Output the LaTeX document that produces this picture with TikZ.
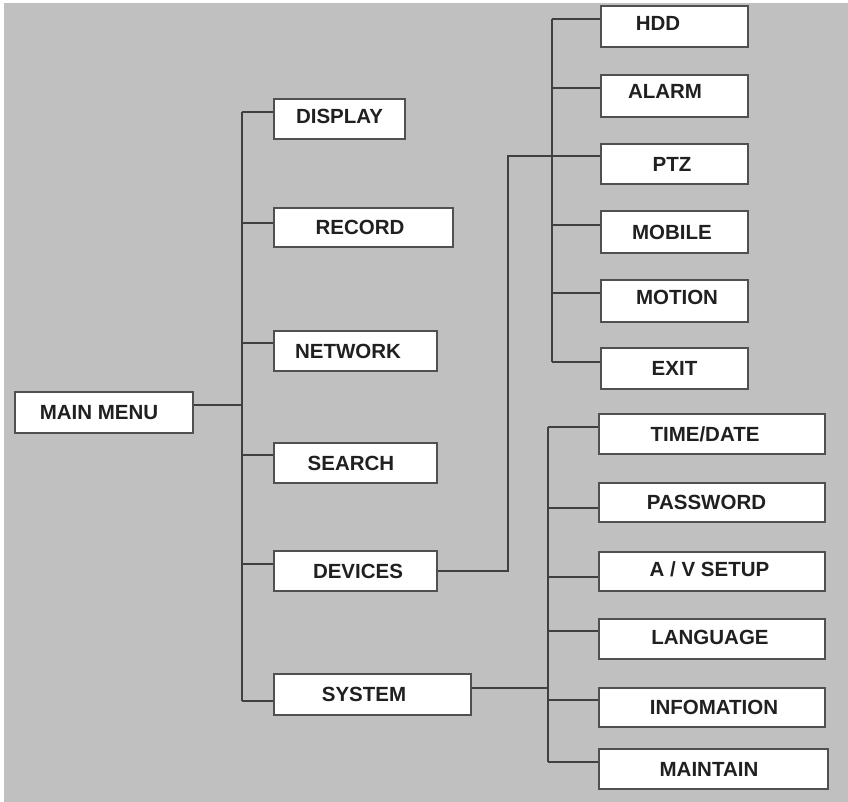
\documentclass[tikz,border=0pt]{standalone}
\usepackage{fontspec}
\setmainfont{Liberation Sans}
\newcommand\txl[2]{#2\hspace*{#1}}
\newcommand\txr[2]{\hspace*{#1}#2}
\begin{document}
\begin{tikzpicture}[x=1pt,y=-1pt,
  menubox/.style={draw=boxline,fill=white,line width=1.8pt,inner sep=0pt,
    text=txt,font=\fontsize{20.5}{24}\selectfont\bfseries},
  conn/.style={draw=wire,line width=2pt}]
\definecolor{bg}{HTML}{C0C0C0}
\definecolor{boxline}{HTML}{505050}
\definecolor{wire}{HTML}{404040}
\definecolor{txt}{HTML}{202020}
\useasboundingbox (0,0) rectangle (848,802);
\fill[white] (0,0) rectangle (848,802);
\fill[bg] (4,3) rectangle (848,802);
% left column
\node[menubox,minimum width=178pt,minimum height=41pt] (mm) at (104,412.5) {\txl{10pt}{MAIN MENU}};
\node[menubox,minimum width=131pt,minimum height=40pt] (disp) at (339.5,119) {\raisebox{5pt}{DISPLAY}};
\node[menubox,minimum width=179pt,minimum height=39pt] (rec) at (363.5,227.5) {\txl{7pt}{RECORD}};
\node[menubox,minimum width=163pt,minimum height=40pt] (net) at (355.5,351) {\txl{15pt}{NETWORK}};
\node[menubox,minimum width=163pt,minimum height=40pt] (sea) at (355.5,463) {\txl{9pt}{SEARCH}};
\node[menubox,minimum width=163pt,minimum height=40pt] (dev) at (355.5,571) {\txr{5pt}{DEVICES}};
\node[menubox,minimum width=197pt,minimum height=41pt] (sys) at (372.5,694.5) {\txl{17pt}{SYSTEM}};
% devices column
\node[menubox,minimum width=147pt,minimum height=41pt] (hdd) at (674.5,26.5) {\raisebox{6pt}{\txl{33pt}{HDD}}};
\node[menubox,minimum width=147pt,minimum height=42pt] (alarm) at (674.5,96) {\raisebox{9pt}{\txl{19pt}{ALARM}}};
\node[menubox,minimum width=147pt,minimum height=40pt] (ptz) at (674.5,164) {\txl{5pt}{PTZ}};
\node[menubox,minimum width=147pt,minimum height=42pt] (mob) at (674.5,232) {\txl{5pt}{MOBILE}};
\node[menubox,minimum width=147pt,minimum height=42pt] (mot) at (674.5,301) {\raisebox{7pt}{\txr{5pt}{MOTION}}};
\node[menubox,minimum width=147pt,minimum height=41pt] (exit) at (674.5,368.5) {EXIT};
% system column
\node[menubox,minimum width=226pt,minimum height=40pt] (td) at (712,434) {\txl{14pt}{TIME/DATE}};
\node[menubox,minimum width=226pt,minimum height=39pt] (pw) at (712,502.5) {\txl{11pt}{PASSWORD}};
\node[menubox,minimum width=226pt,minimum height=39pt] (av) at (712,571.5) {\raisebox{4pt}{\txl{5pt}{A / V SETUP}}};
\node[menubox,minimum width=226pt,minimum height=40pt] (lang) at (712,639) {\raisebox{4pt}{\txl{4pt}{LANGUAGE}}};
\node[menubox,minimum width=226pt,minimum height=39pt] (info) at (712,707.5) {\txr{4pt}{INFOMATION}};
\node[menubox,minimum width=229pt,minimum height=40pt] (mnt) at (713.5,769) {\txl{9pt}{MAINTAIN}};
% main trunk
\coordinate (m0) at (242,405);
\coordinate (m1) at (242,112);
\coordinate (m2) at (242,223);
\coordinate (m3) at (242,343);
\coordinate (m4) at (242,455);
\coordinate (m5) at (242,564);
\coordinate (m6) at (242,701);
\draw[conn] (mm.east |- m0) -- (m0);
\draw[conn] (m1) -- (m6);
\draw[conn] (m1) -- (disp.west |- m1);
\draw[conn] (m2) -- (rec.west |- m2);
\draw[conn] (m3) -- (net.west |- m3);
\draw[conn] (m4) -- (sea.west |- m4);
\draw[conn] (m5) -- (dev.west |- m5);
\draw[conn] (m6) -- (sys.west |- m6);
% devices trunk
\coordinate (dj) at (508,156);
\coordinate (d1) at (552,19);
\coordinate (d2) at (552,88);
\coordinate (d3) at (552,156);
\coordinate (d4) at (552,225);
\coordinate (d5) at (552,293);
\coordinate (d6) at (552,362);
\draw[conn] (dev.east) -| (dj) -- (ptz.west |- dj);
\draw[conn] (d1) -- (d6);
\draw[conn] (d1) -- (hdd.west |- d1);
\draw[conn] (d2) -- (alarm.west |- d2);
\draw[conn] (d4) -- (mob.west |- d4);
\draw[conn] (d5) -- (mot.west |- d5);
\draw[conn] (d6) -- (exit.west |- d6);
% system trunk
\coordinate (sj) at (548,688);
\coordinate (s1) at (548,427);
\coordinate (s2) at (548,508);
\coordinate (s3) at (548,577);
\coordinate (s4) at (548,631);
\coordinate (s5) at (548,700);
\coordinate (s6) at (548,762);
\draw[conn] (sys.east |- sj) -- (sj);
\draw[conn] (s1) -- (s6);
\draw[conn] (s1) -- (td.west |- s1);
\draw[conn] (s2) -- (pw.west |- s2);
\draw[conn] (s3) -- (av.west |- s3);
\draw[conn] (s4) -- (lang.west |- s4);
\draw[conn] (s5) -- (info.west |- s5);
\draw[conn] (s6) -- (mnt.west |- s6);
\end{tikzpicture}
\end{document}
